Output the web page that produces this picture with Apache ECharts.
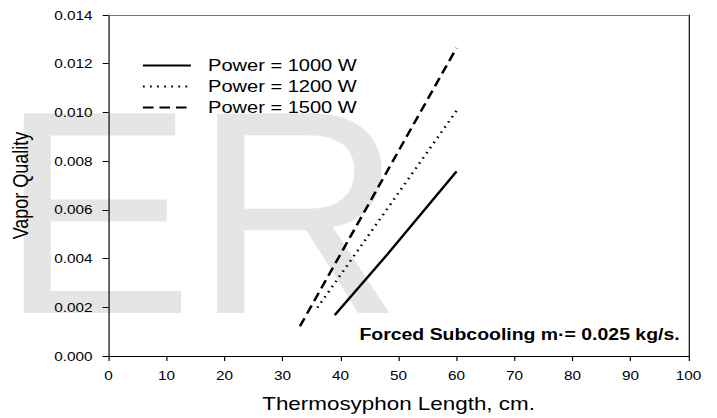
<!DOCTYPE html>
<html>
<head>
    <meta charset="UTF-8">
    <title>Vapor Quality vs Thermosyphon Length</title>
    <script src="https://cdn.jsdelivr.net/npm/echarts@6/dist/echarts.min.js"></script>
    <style>
        html, body { margin: 0; padding: 0; background: #fff; overflow: hidden; }
        /* the reference is horizontally stretched, so draw narrower and stretch */
        #main { width: 608px; height: 418px; transform: scaleX(1.1793); transform-origin: 0 0; }
    </style>
</head>
<body>
<div id="main"></div>
<script>
    // data
    var power1000X = [39, 48, 60];
    var power1000Y = [0.00168, 0.00415, 0.00758];
    var power1200X = [36, 60];
    var power1200Y = [0.00198, 0.01007];
    var power1500X = [33, 60];
    var power1500Y = [0.00122, 0.01265];
    var seriesNames = ['Power = 1000 W', 'Power = 1200 W', 'Power = 1500 W'];

    var S = 717 / 608;
    var FONT = 'Liberation Sans, Arial, sans-serif';

    function pairs(xs, ys) {
        return xs.map(function (x, i) { return [x, ys[i]]; });
    }

    var myChart = echarts.init(document.getElementById('main'), null, {renderer: 'svg'});

    var option = {
        animation: false,
        textStyle: {fontFamily: FONT, color: '#000'},
        grid: {left: 87.5, right: 24.1, top: 15, bottom: 61.3},
        legend: {
            orient: 'vertical',
            left: 115.2,
            top: 52,
            itemWidth: 40.7,
            itemHeight: 14,
            itemGap: 4,
            selectedMode: false,
            data: seriesNames,
            itemStyle: {color: 'transparent', borderWidth: 0},
            textStyle: {fontSize: 17, lineHeight: 16, color: '#000', padding: [0, 0, 0, 9.5]}
        },
        graphic: [
            {   // ER watermark behind the plot
                type: 'text', x: 0, y: 212, scaleX: 1 / S, z: -10, silent: true,
                style: {text: 'ER', fontSize: 290, fontFamily: FONT, fill: '#e5e5e5', align: 'left', verticalAlign: 'middle'}
            },
            {
                type: 'text', x: 576.3, y: 335, z: 10,
                style: {text: 'Forced Subcooling m\u00b7= 0.025 kg/s.', fontSize: 16.5, fontWeight: 'bold', fontFamily: FONT,
                    fill: '#000', align: 'right', verticalAlign: 'middle'}
            }
        ],
        xAxis: [{
            type: 'value', min: 0, max: 100, interval: 10,
            name: 'Thermosyphon Length, cm.', nameLocation: 'middle', nameGap: 38,
            nameTextStyle: {fontSize: 19, color: '#000'},
            axisLine: {show: true, onZero: false, lineStyle: {color: '#000', width: 1}},
            axisTick: {show: true, inside: false, length: 5, lineStyle: {color: '#000'}},
            axisLabel: {margin: 13, fontSize: 13, color: '#000'},
            splitLine: {show: false}
        }, {
            type: 'value', position: 'top', min: 0, max: 100,
            axisLine: {show: true, onZero: false, lineStyle: {color: '#777', width: 1}},
            axisTick: {show: false}, axisLabel: {show: false}, splitLine: {show: false}
        }],
        yAxis: [{
            type: 'value', min: 0, max: 0.014, interval: 0.002,
            name: 'Vapor Quality', nameLocation: 'middle', nameGap: 66,
            nameTextStyle: {fontSize: 18, color: '#000'},
            axisLine: {show: true, onZero: false, lineStyle: {color: '#000', width: 1}},
            axisTick: {show: true, inside: false, length: 5, lineStyle: {color: '#000'}},
            axisLabel: {margin: 13.5, fontSize: 13, color: '#000', formatter: function (v) { return v.toFixed(3); }},
            splitLine: {show: false}
        }, {
            type: 'value', position: 'right', min: 0, max: 0.014,
            axisLine: {show: true, onZero: false, lineStyle: {color: '#000', width: 1}},
            axisTick: {show: false}, axisLabel: {show: false}, splitLine: {show: false}
        }],
        series: [{
            name: seriesNames[0], type: 'line', symbol: 'none', data: pairs(power1000X, power1000Y),
            lineStyle: {color: '#000', width: 2.2, type: 'solid'}, itemStyle: {color: '#000'}
        }, {
            name: seriesNames[1], type: 'line', symbol: 'none', data: pairs(power1200X, power1200Y),
            lineStyle: {color: '#000', width: 2.2, type: [1.5, 4.5]}, itemStyle: {color: '#000'}
        }, {
            name: seriesNames[2], type: 'line', symbol: 'none', data: pairs(power1500X, power1500Y),
            lineStyle: {color: '#000', width: 2.2, type: [9, 5]}, itemStyle: {color: '#000'}
        }]
    };
    myChart.setOption(option);
</script>
</body>
</html>
